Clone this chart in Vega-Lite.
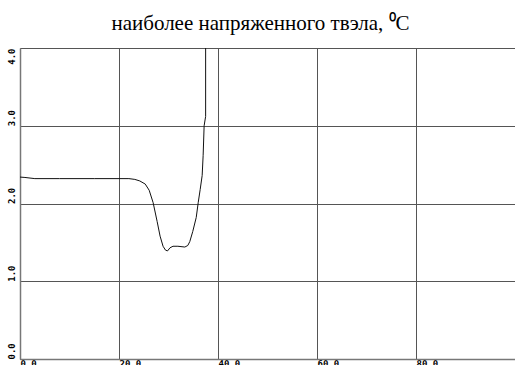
{
  "$schema": "https://vega.github.io/schema/vega-lite/v6.json",
  "width": 495,
  "height": 311,
  "autosize": {"type": "none"},
  "padding": {"left": 20, "top": 48, "right": 0, "bottom": 6},
  "background": "white",
  "title": {
    "text": "наиболее напряженного твэла, ⁰C",
    "font": "Liberation Serif",
    "fontSize": 21,
    "fontWeight": "normal",
    "color": "black",
    "anchor": "middle",
    "dx": -7,
    "offset": 14
  },
  "config": {
    "view": {"stroke": null},
    "axis": {
      "gridColor": "#555555",
      "gridOpacity": 1,
      "gridWidth": 1,
      "domainColor": "#777777",
      "domainWidth": 1.5,
      "ticks": false,
      "labelFont": "DejaVu Sans Mono",
      "labelFontWeight": "bold",
      "labelFontSize": 9,
      "labelColor": "black",
      "title": null
    }
  },
  "data": {
    "values": [
      {"t": 0.0, "v": 2.34},
      {"t": 1.0, "v": 2.335},
      {"t": 3.0, "v": 2.32},
      {"t": 8.0, "v": 2.32},
      {"t": 15.0, "v": 2.32},
      {"t": 22.0, "v": 2.32},
      {"t": 23.2, "v": 2.31},
      {"t": 24.2, "v": 2.29},
      {"t": 25.3, "v": 2.25},
      {"t": 26.1, "v": 2.17},
      {"t": 26.9, "v": 2.01},
      {"t": 27.7, "v": 1.77},
      {"t": 28.3, "v": 1.58},
      {"t": 28.9, "v": 1.45},
      {"t": 29.4, "v": 1.40},
      {"t": 29.8, "v": 1.39},
      {"t": 30.3, "v": 1.43},
      {"t": 30.9, "v": 1.45},
      {"t": 31.9, "v": 1.45},
      {"t": 33.3, "v": 1.44},
      {"t": 33.9, "v": 1.46},
      {"t": 34.3, "v": 1.51},
      {"t": 34.9, "v": 1.64},
      {"t": 35.6, "v": 1.82},
      {"t": 36.0, "v": 2.01},
      {"t": 36.4, "v": 2.18},
      {"t": 36.8, "v": 2.36},
      {"t": 37.0, "v": 2.62},
      {"t": 37.2, "v": 3.0},
      {"t": 37.5, "v": 3.12},
      {"t": 37.5, "v": 4.0}
    ]
  },
  "mark": {"type": "line", "color": "#111111", "strokeWidth": 1, "clip": true},
  "encoding": {
    "x": {
      "field": "t",
      "type": "quantitative",
      "scale": {"domain": [0, 100], "nice": false},
      "axis": {
        "values": [0, 20, 40, 60, 80],
        "format": ".1f",
        "labelAlign": "left",
        "labelBaseline": "top",
        "labelPadding": 0,
        "labelFlush": false,
        "labelOverlap": false
      }
    },
    "y": {
      "field": "v",
      "type": "quantitative",
      "scale": {"domain": [0, 4], "nice": false},
      "axis": {
        "values": [0, 1, 2, 3, 4],
        "format": ".1f",
        "labelAngle": 270,
        "labelAlign": {"expr": "datum.value == 4 ? 'right' : 'left'"},
        "labelBaseline": "middle",
        "labelPadding": 9,
        "labelFlush": false,
        "labelOverlap": false,
        "labelBound": false
      }
    }
  }
}
